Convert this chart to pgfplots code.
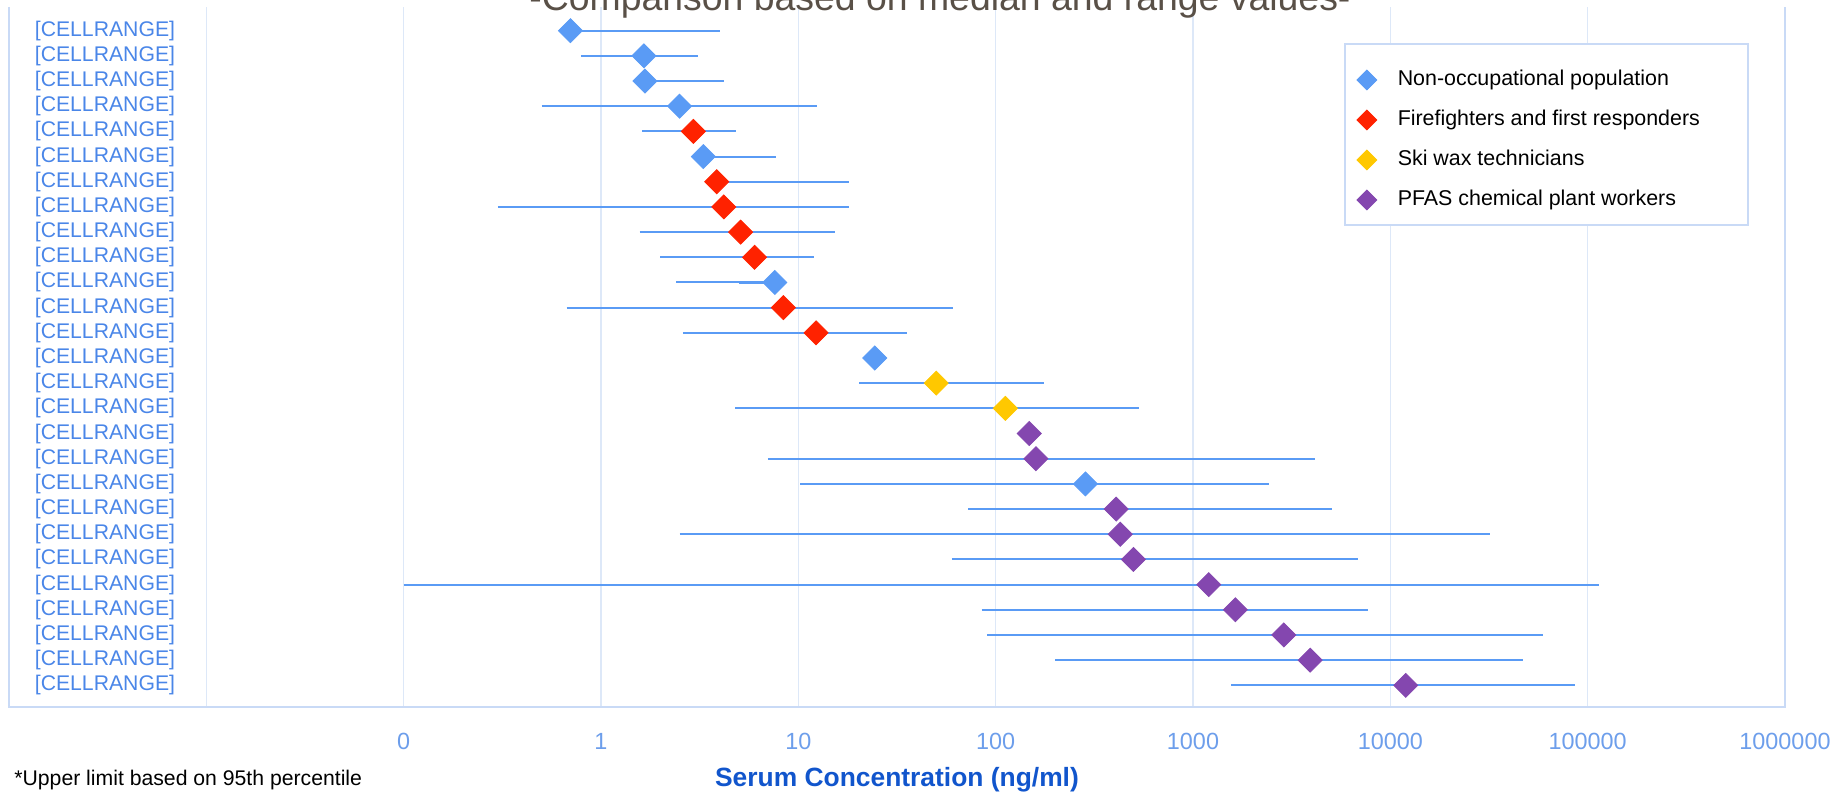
\documentclass[border=0pt]{standalone}
\usepackage{fontspec}
\setmainfont{Liberation Sans}
\usepackage{pgfplots}
\pgfplotsset{compat=1.18}
\definecolor{cblue}{HTML}{5A9BF5}
\definecolor{cred}{HTML}{FF2200}
\definecolor{cyellow}{HTML}{FFC800}
\definecolor{cpurple}{HTML}{8447AF}
\definecolor{gridc}{HTML}{DDE8F8}
\definecolor{borderc}{HTML}{C9DAF6}
\definecolor{labc}{HTML}{4A86E8}
\definecolor{tickc}{HTML}{6D9EEB}
\definecolor{xlabc}{HTML}{1155CC}
\definecolor{titlec}{HTML}{595047}
\tikzset{rangeline/.style={cblue, line width=1pt}}
\newcommand\rng[3]{\addplot[rangeline, forget plot] coordinates {(#2,#1) (#3,#1)};}
\pgfplotsset{dmark/.style={only marks, mark=square*, mark size=4.24pt,
  legend image code/.code={\draw[##1, mark size=3.5pt] plot coordinates {(0pt,0pt)};}}}
\begin{document}
\begin{tikzpicture}
\path[use as bounding box] (0,0) rectangle (916.5pt,396pt);
\clip (0,0) rectangle (916.5pt,396pt);
\begin{axis}[
 at={(4.5pt,42.5pt)}, anchor=south west,
 width=888pt, height=350pt, scale only axis,
 xmode=log, xmin=1e-3, xmax=1e6, ymin=0.14, ymax=27.94,
 xtick={1e-3,1e-2,1e-1,1,10,100,1000,10000,100000,1000000},
 xticklabels={,,0,1,10,100,1000,10000,100000,1000000},
 minor xtick={},
 ytick=\empty,
 major tick length=0pt, minor tick length=0pt,
 tick style={draw=none},
 xmajorgrids, major grid style={gridc, line width=0.8pt},
 axis line style={draw=none},
 clip=false,
 xticklabel style={font=\fontsize{11.7}{14}\selectfont, text=tickc, anchor=center, yshift=-17pt},
 xlabel={Serum Concentration (ng/ml)},
 xlabel style={at={(axis description cs:0.5,0)}, anchor=center, yshift=-36.5pt, font=\fontsize{13.2}{16}\selectfont\bfseries, text=xlabc},
 legend style={at={(0.759,0.9109)}, anchor=north west, draw=none, fill=none, inner sep=0pt, outer sep=0pt, row sep=9.4pt, column sep=10.5pt, font=\fontsize{10.7}{13}\selectfont, nodes={inner sep=0pt, text height=8pt, text depth=2.6pt}},
 legend cell align=left,
]
\draw[borderc, line width=1pt] (axis description cs:0,1) -- (axis description cs:0,0) -- (axis description cs:1,0) -- (axis description cs:1,1);
\rng{27}{0.70}{4.0}
\rng{26}{0.79}{3.1}
\rng{25}{1.67}{4.2}
\rng{24}{0.50}{12.4}
\rng{23}{1.62}{4.85}
\rng{22}{3.3}{7.7}
\rng{21}{3.86}{18.1}
\rng{20}{0.30}{18.1}
\rng{19}{1.57}{15.3}
\rng{18}{2.0}{12.0}
\rng{17}{2.4}{7.6}
\addplot[cblue, line width=1.4pt, forget plot] coordinates {(5.0,17) (7.6,17)};
\rng{16}{0.67}{60.8}
\rng{15}{2.6}{35.4}
\rng{13}{20.3}{175}
\rng{12}{4.8}{535}
\rng{10}{7.0}{4140}
\rng{9}{10.2}{2440}
\rng{8}{72.5}{5090}
\rng{7}{2.5}{32000}
\rng{6}{60}{6840}
\rng{5}{0.1}{114000}
\rng{4}{85}{7740}
\rng{3}{90.4}{59300}
\rng{2}{200}{47000}
\rng{1}{1560}{86500}
\addplot[dmark, cblue, mark options={rotate=45, fill=cblue, draw=cblue}] coordinates {
 (0.70,27) (1.65,26) (1.67,25) (2.5,24) (3.3,22) (7.6,17) (24.4,14) (285,9)};
\addlegendentry{Non-occupational population}
\addplot[dmark, cred, mark options={rotate=45, fill=cred, draw=cred}] coordinates {
 (2.94,23) (3.86,21) (4.19,20) (5.1,19) (6.0,18) (8.4,16) (12.3,15)};
\addlegendentry{Firefighters and first responders}
\addplot[dmark, cyellow, mark options={rotate=45, fill=cyellow, draw=cyellow}] coordinates {
 (50,13) (112,12)};
\addlegendentry{Ski wax technicians}
\addplot[dmark, cpurple, mark options={rotate=45, fill=cpurple, draw=cpurple}] coordinates {
 (148,11) (160,10) (408,8) (428,7) (499,6) (1202,5) (1640,4) (2885,3) (3925,2) (11970,1)};
\addlegendentry{PFAS chemical plant workers}
\draw[borderc, line width=0.8pt, fill=white] (axis description cs:0.7521,0.6886) rectangle (axis description cs:0.9792,0.9471);
\pgfplotsinvokeforeach{1,...,27}{\node[anchor=west, inner sep=0pt, text=labc, font=\fontsize{10.6}{12}\selectfont] at (axis cs:0.001346,#1) {[CELLRANGE]};}
\end{axis}
\node[anchor=base, font=\fontsize{18.7}{22}\selectfont, text=titlec] at (470pt,390.5pt) {-Comparison based on median and range values-};
\node[anchor=base west, inner sep=0pt, font=\fontsize{10.6}{12}\selectfont] at (7pt,3pt) {*Upper limit based on 95th percentile};
\end{tikzpicture}
\end{document}
